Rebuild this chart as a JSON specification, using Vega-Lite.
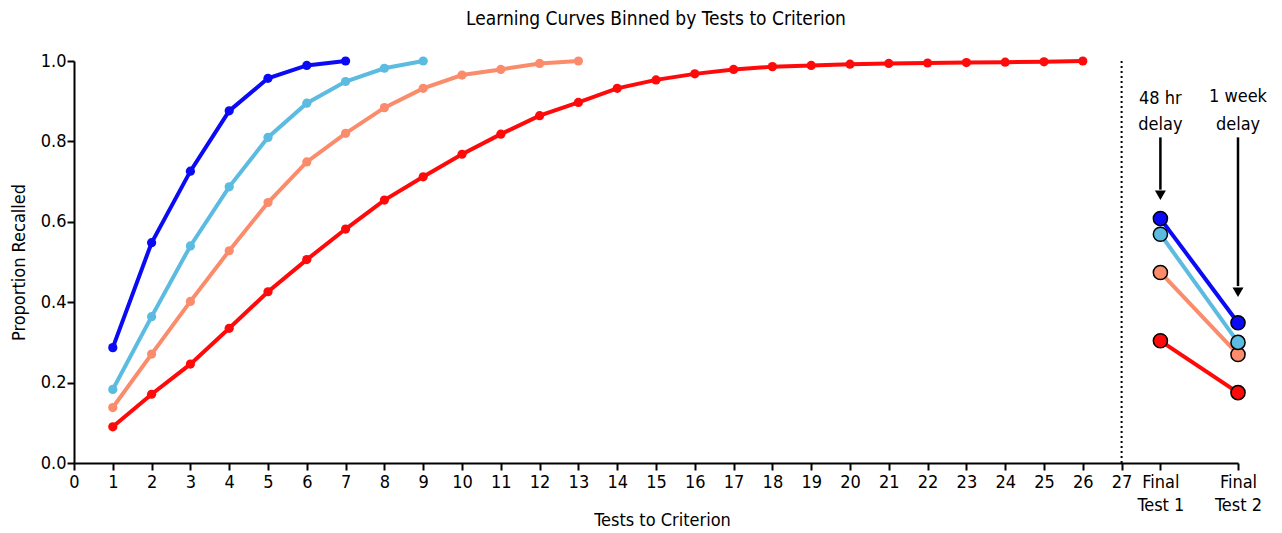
{
  "$schema": "https://vega.github.io/schema/vega-lite/v6.json",
  "autosize": "none",
  "width": 1164,
  "height": 402,
  "padding": {"left": 74, "top": 61, "right": 44, "bottom": 70},
  "background": "white",
  "title": {
    "text": "Learning Curves Binned by Tests to Criterion",
    "fontSize": 19,
    "fontWeight": "normal",
    "font": "Liberation Sans Narrow, DejaVu Sans Condensed, sans-serif",
    "color": "black",
    "anchor": "middle",
    "offset": 23
  },
  "config": {
    "view": {"stroke": null},
    "font": "Liberation Sans Narrow, DejaVu Sans Condensed, sans-serif",
    "axis": {
      "grid": false,
      "domainColor": "black",
      "domainWidth": 2,
      "tickColor": "black",
      "tickWidth": 2,
      "tickSize": 7,
      "labelColor": "black",
      "labelFontSize": 18,
      "labelFont": "Liberation Sans Narrow, DejaVu Sans Condensed, sans-serif",
      "titleColor": "black",
      "titleFontSize": 18,
      "titleFontWeight": "normal",
      "titleFont": "Liberation Sans Narrow, DejaVu Sans Condensed, sans-serif"
    }
  },
  "datasets": {
    "curves": [
      {"series": "7 tests", "test": 1, "p": 0.287},
      {"series": "7 tests", "test": 2, "p": 0.548},
      {"series": "7 tests", "test": 3, "p": 0.726},
      {"series": "7 tests", "test": 4, "p": 0.876},
      {"series": "7 tests", "test": 5, "p": 0.957},
      {"series": "7 tests", "test": 6, "p": 0.989},
      {"series": "7 tests", "test": 7, "p": 1.0},
      {"series": "9 tests", "test": 1, "p": 0.183},
      {"series": "9 tests", "test": 2, "p": 0.364},
      {"series": "9 tests", "test": 3, "p": 0.540},
      {"series": "9 tests", "test": 4, "p": 0.687},
      {"series": "9 tests", "test": 5, "p": 0.810},
      {"series": "9 tests", "test": 6, "p": 0.895},
      {"series": "9 tests", "test": 7, "p": 0.949},
      {"series": "9 tests", "test": 8, "p": 0.982},
      {"series": "9 tests", "test": 9, "p": 1.0},
      {"series": "13 tests", "test": 1, "p": 0.138},
      {"series": "13 tests", "test": 2, "p": 0.271},
      {"series": "13 tests", "test": 3, "p": 0.402},
      {"series": "13 tests", "test": 4, "p": 0.528},
      {"series": "13 tests", "test": 5, "p": 0.648},
      {"series": "13 tests", "test": 6, "p": 0.749},
      {"series": "13 tests", "test": 7, "p": 0.820},
      {"series": "13 tests", "test": 8, "p": 0.884},
      {"series": "13 tests", "test": 9, "p": 0.932},
      {"series": "13 tests", "test": 10, "p": 0.965},
      {"series": "13 tests", "test": 11, "p": 0.979},
      {"series": "13 tests", "test": 12, "p": 0.994},
      {"series": "13 tests", "test": 13, "p": 1.0},
      {"series": "26 tests", "test": 1, "p": 0.090},
      {"series": "26 tests", "test": 2, "p": 0.171},
      {"series": "26 tests", "test": 3, "p": 0.246},
      {"series": "26 tests", "test": 4, "p": 0.335},
      {"series": "26 tests", "test": 5, "p": 0.426},
      {"series": "26 tests", "test": 6, "p": 0.506},
      {"series": "26 tests", "test": 7, "p": 0.582},
      {"series": "26 tests", "test": 8, "p": 0.654},
      {"series": "26 tests", "test": 9, "p": 0.712},
      {"series": "26 tests", "test": 10, "p": 0.768},
      {"series": "26 tests", "test": 11, "p": 0.818},
      {"series": "26 tests", "test": 12, "p": 0.864},
      {"series": "26 tests", "test": 13, "p": 0.897},
      {"series": "26 tests", "test": 14, "p": 0.932},
      {"series": "26 tests", "test": 15, "p": 0.953},
      {"series": "26 tests", "test": 16, "p": 0.968},
      {"series": "26 tests", "test": 17, "p": 0.979},
      {"series": "26 tests", "test": 18, "p": 0.986},
      {"series": "26 tests", "test": 19, "p": 0.989},
      {"series": "26 tests", "test": 20, "p": 0.992},
      {"series": "26 tests", "test": 21, "p": 0.994},
      {"series": "26 tests", "test": 22, "p": 0.995},
      {"series": "26 tests", "test": 23, "p": 0.996},
      {"series": "26 tests", "test": 24, "p": 0.997},
      {"series": "26 tests", "test": 25, "p": 0.998},
      {"series": "26 tests", "test": 26, "p": 1.0}
    ],
    "finals": [
      {"series": "26 tests", "order": 1, "test": 28, "p": 0.304},
      {"series": "26 tests", "order": 1, "test": 30, "p": 0.175},
      {"series": "13 tests", "order": 2, "test": 28, "p": 0.474},
      {"series": "13 tests", "order": 2, "test": 30, "p": 0.270},
      {"series": "9 tests", "order": 3, "test": 28, "p": 0.569},
      {"series": "9 tests", "order": 3, "test": 30, "p": 0.300},
      {"series": "7 tests", "order": 4, "test": 28, "p": 0.608},
      {"series": "7 tests", "order": 4, "test": 30, "p": 0.349}
    ],
    "divider": [
      {"test": 27, "p": 0, "p2": 1}
    ],
    "arrows": [
      {"test": 28, "p": 0.81, "p2": 0.68, "tip": 0.666},
      {"test": 30, "p": 0.81, "p2": 0.44, "tip": 0.425}
    ],
    "notes": [
      {"test": 28, "p": 0.905, "label": "48 hr"},
      {"test": 28, "p": 0.84, "label": "delay"},
      {"test": 30, "p": 0.91, "label": "1 week"},
      {"test": 30, "p": 0.84, "label": "delay"}
    ]
  },
  "layer": [
    {
      "data": {"name": "divider"},
      "mark": {"type": "rule", "color": "black", "strokeWidth": 2, "strokeDash": [2, 3]},
      "encoding": {
        "x": {
          "field": "test", "type": "quantitative",
          "scale": {"domain": [0, 30], "nice": false, "zero": false},
          "title": "Tests to Criterion",
          "axis": {
            "values": [0,1,2,3,4,5,6,7,8,9,10,11,12,13,14,15,16,17,18,19,20,21,22,23,24,25,26,27,28,30],
            "labelExpr": "datum.value == 28 ? ['Final', 'Test 1'] : datum.value == 30 ? ['Final', 'Test 2'] : datum.label",
            "labelLineHeight": 23,
            "labelPadding": 3,
            "labelBaseline": "top",
            "labelFlush": false,
            "labelOverlap": false,
            "titleBaseline": "top",
            "titleY": 48,
            "titleX": 588
          }
        },
        "y": {
          "field": "p", "type": "quantitative",
          "scale": {"domain": [0, 1], "nice": false},
          "title": "Proportion Recalled",
          "axis": {
            "values": [0, 0.2, 0.4, 0.6, 0.8, 1.0],
            "format": ".1f",
            "labelPadding": 1,
            "titlePadding": 12
          }
        },
        "y2": {"field": "p2"}
      }
    },
    {
      "data": {"name": "curves"},
      "mark": {"type": "line", "strokeWidth": 4, "point": {"filled": true, "size": 85}},
      "encoding": {
        "x": {"field": "test", "type": "quantitative", "title": "Tests to Criterion"},
        "y": {"field": "p", "type": "quantitative", "title": "Proportion Recalled"},
        "color": {
          "field": "series", "type": "nominal",
          "scale": {
            "domain": ["7 tests", "9 tests", "13 tests", "26 tests"],
            "range": ["#0a0af5", "#5bbbe0", "#fa8c6c", "#ff0a0a"]
          },
          "legend": null
        }
      }
    },
    {
      "data": {"name": "finals"},
      "mark": {"type": "line", "strokeWidth": 4},
      "encoding": {
        "x": {"field": "test", "type": "quantitative", "title": "Tests to Criterion"},
        "y": {"field": "p", "type": "quantitative", "title": "Proportion Recalled"},
        "color": {"field": "series", "type": "nominal", "legend": null},
        "order": {"field": "order", "type": "quantitative"}
      }
    },
    {
      "data": {"name": "finals"},
      "mark": {"type": "point", "filled": true, "size": 200, "stroke": "black", "strokeWidth": 1.5, "opacity": 1},
      "encoding": {
        "x": {"field": "test", "type": "quantitative", "title": "Tests to Criterion"},
        "y": {"field": "p", "type": "quantitative", "title": "Proportion Recalled"},
        "fill": {
          "field": "series", "type": "nominal",
          "scale": {
            "domain": ["7 tests", "9 tests", "13 tests", "26 tests"],
            "range": ["#0a0af5", "#5bbbe0", "#fa8c6c", "#ff0a0a"]
          },
          "legend": null
        },
        "order": {"field": "order", "type": "quantitative"}
      }
    },
    {
      "data": {"name": "arrows"},
      "mark": {"type": "rule", "color": "black", "strokeWidth": 2.5},
      "encoding": {
        "x": {"field": "test", "type": "quantitative", "title": "Tests to Criterion"},
        "y": {"field": "p", "type": "quantitative", "title": "Proportion Recalled"},
        "y2": {"field": "p2"}
      }
    },
    {
      "data": {"name": "arrows"},
      "mark": {"type": "point", "shape": "triangle-down", "filled": true, "color": "black", "size": 120, "opacity": 1},
      "encoding": {
        "x": {"field": "test", "type": "quantitative", "title": "Tests to Criterion"},
        "y": {"field": "tip", "type": "quantitative", "title": "Proportion Recalled"}
      }
    },
    {
      "data": {"name": "notes"},
      "mark": {"type": "text", "fontSize": 18, "color": "black", "align": "center", "baseline": "middle", "font": "Liberation Sans Narrow, DejaVu Sans Condensed, sans-serif"},
      "encoding": {
        "x": {"field": "test", "type": "quantitative", "title": "Tests to Criterion"},
        "y": {"field": "p", "type": "quantitative", "title": "Proportion Recalled"},
        "text": {"field": "label"}
      }
    }
  ]
}
